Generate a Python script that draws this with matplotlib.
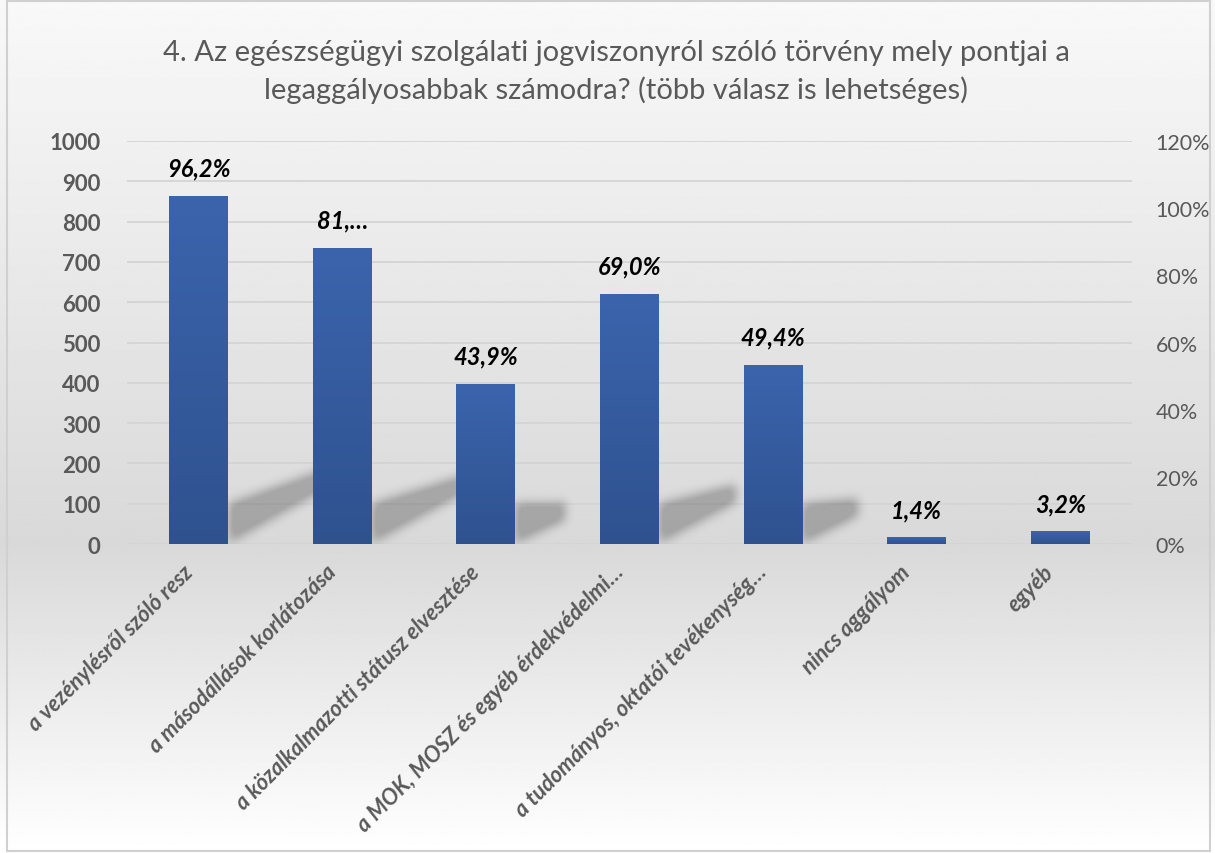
import numpy as np
import matplotlib.pyplot as plt
import matplotlib.transforms as mtransforms
from matplotlib.ticker import FuncFormatter
from matplotlib.patches import Rectangle
from matplotlib.path import Path
from matplotlib.colors import LinearSegmentedColormap

plt.rcParams['font.family'] = ['Lato', 'DejaVu Sans']

# adatok
kategoriak = ['a vezénylésről szóló resz', 'a másodállások korlátozása',
              'a közalkalmazotti státusz elvesztése', 'a MOK, MOSZ és egyéb érdekvédelmi…',
              'a tudományos, oktatói tevékenység…', 'nincs aggályom', 'egyéb']
ertekek = [863, 734, 395, 620, 444, 15, 30]
cimkek = ['96,2%', '81,…', '43,9%', '69,0%', '49,4%', '1,4%', '3,2%']
arnyek = [1, 1, 1, 1, 1, 0, 0]  # melyik oszlopnak van árnyéka

fig = plt.figure(figsize=(12.15, 8.54), dpi=100)

# háttér színátmenet
bg = fig.add_axes([0, 0, 1, 1], zorder=-10)
t = np.linspace(0, 1, 400)
f0 = 545 / 854
c = np.where(t < f0, 0.975 - (0.975 - 0.85) * (t / f0),
             0.85 + (1.0 - 0.85) * ((t - f0) / (1 - f0)))
bg.imshow(np.repeat(c[:, None], 2, axis=1), aspect='auto', cmap='gray',
          vmin=0, vmax=1, extent=[0, 1, 1, 0])
bg.add_patch(Rectangle((0.006, 0.002), 0.99, 0.996, fill=False,
                       edgecolor='#d0d0d0', lw=1.5, transform=bg.transAxes))
bg.axis('off')

ax = fig.add_axes([127 / 1215, 1 - 545 / 854, 1005 / 1215, 403 / 854])
ax.patch.set_alpha(0)
ax.set_axisbelow(True)
x = np.arange(len(kategoriak))
szel = 0.41

# elmosott árnyékok az oszlopok mögött
gx = np.linspace(-0.5, 6.5, 1005)
gy = np.linspace(0, 300, 121)
GX, GY = np.meshgrid(gx, gy)
maszk = np.zeros(GX.shape)
for i, (v, s) in enumerate(zip(ertekek, arnyek)):
    if not s:
        continue
    x0 = i + szel / 2
    L = 0.125 * v / 143.6
    emel = max(0, 0.2 * (v - 380))
    poly = Path([(x0, 0), (x0, 100), (x0 + L, 100 + emel),
                 (x0 + L, 100 + emel - 45), (x0, 0)])
    inside = poly.contains_points(np.c_[GX.ravel(), GY.ravel()])
    maszk = np.maximum(maszk, inside.reshape(GX.shape).astype(float))
k = np.exp(-0.5 * (np.arange(-15, 16) / 5.0) ** 2)
k /= k.sum()
maszk = np.apply_along_axis(lambda r: np.convolve(r, k, mode='same'), 1, maszk)
maszk = np.apply_along_axis(lambda r: np.convolve(r, k, mode='same'), 0, maszk)
rgba = np.zeros(maszk.shape + (4,))
rgba[..., 3] = np.clip(maszk * 0.3, 0, 0.24)
ax.imshow(rgba, origin='lower', aspect='auto', extent=[-0.5, 6.5, 0, 300],
          zorder=1, interpolation='bilinear')

cm = LinearSegmentedColormap.from_list('g', ['#2f528f', '#3b64ad'])
grad = np.linspace(0.0, 1.0, 100)[:, None]
bars = ax.bar(x, ertekek, width=szel, color='none', zorder=3)
for b in bars:
    ax.imshow(grad, cmap=cm, aspect='auto', origin='lower',
              extent=[b.get_x(), b.get_x() + b.get_width(), 0, b.get_height()],
              zorder=3)

for xi, v, lab in zip(x, ertekek, cimkek):
    ax.text(xi, v + 42, lab, ha='center', va='bottom', fontsize=17,
            fontweight='bold', style='italic', color='black')

ax.set_xlim(-0.5, len(kategoriak) - 0.5)
ax.set_ylim(0, 1000)
ax.set_yticks(np.arange(0, 1001, 100))
ax.grid(axis='y', color='#d4d4d4', lw=1.3)
for s in ax.spines.values():
    s.set_visible(False)
ax.tick_params(axis='both', length=0)
ax.tick_params(axis='y', labelsize=16, labelcolor='#595959', pad=19)
for l in ax.get_yticklabels():
    l.set_fontweight('bold')
ax.set_xticks(x)
ax.set_xticklabels(kategoriak, rotation=45, ha='right', rotation_mode='anchor',
                   fontsize=15.8, fontweight='bold', style='italic', color='#595959')
ax.tick_params(axis='x', pad=12)
eltol = mtransforms.ScaledTranslation(-0.17, 0, fig.dpi_scale_trans)
for l in ax.get_xticklabels():
    l.set_transform(l.get_transform() + eltol)

ax2 = ax.twinx()
ax2.set_ylim(0, 1.2)
ax2.set_yticks(np.arange(0, 1.21, 0.2))
ax2.yaxis.set_major_formatter(FuncFormatter(lambda v, p: f'{v*100:.0f}%'))
ax2.tick_params(axis='y', length=0, labelsize=15.5, labelcolor='#595959', pad=17)
for s in ax2.spines.values():
    s.set_visible(False)

fig.text(616 / 1215, 1 - 72 / 854, '4. Az egészségügyi szolgálati jogviszonyról szóló törvény mely pontjai a\nlegaggályosabbak számodra? (több válasz is lehetséges)',
         ha='center', va='center', fontsize=21, color='#595959', linespacing=1.42)

fig.savefig('out.png', dpi=100)
